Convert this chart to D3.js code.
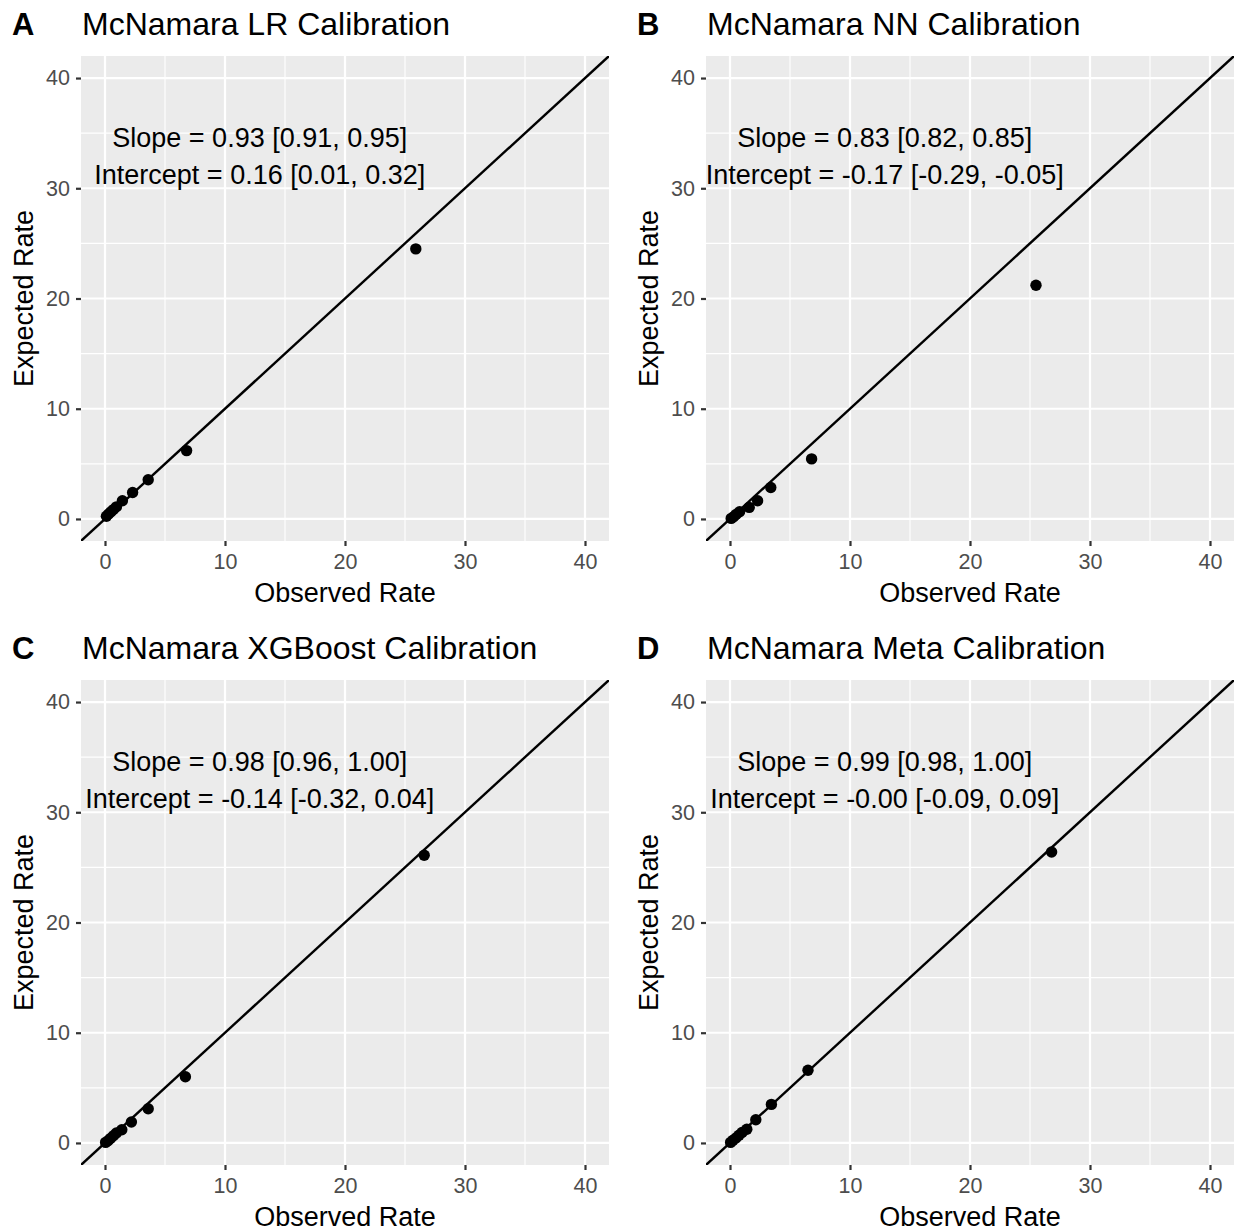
<!DOCTYPE html>
<html>
<head>
<meta charset="utf-8">
<script src="https://cdn.jsdelivr.net/npm/d3@7"></script>
<style>
  body { margin: 0; background: #fff; }
  svg { display: block; font-family: "Liberation Sans", Arial, Helvetica, sans-serif; }
</style>
</head>
<body>
<svg id="chart"></svg>
<script>
const W = 1235, H = 1232;

// panel letters and titles
const tags = ['A', 'B', 'C', 'D'];
const titles = [
  'McNamara LR Calibration',
  'McNamara NN Calibration',
  'McNamara XGBoost Calibration',
  'McNamara Meta Calibration'
];
const slopeLabels = [
  'Slope = 0.93 [0.91, 0.95]',
  'Slope = 0.83 [0.82, 0.85]',
  'Slope = 0.98 [0.96, 1.00]',
  'Slope = 0.99 [0.98, 1.00]'
];
const interceptLabels = [
  'Intercept = 0.16 [0.01, 0.32]',
  'Intercept = -0.17 [-0.29, -0.05]',
  'Intercept = -0.14 [-0.32, 0.04]',
  'Intercept = -0.00 [-0.09, 0.09]'
];

// observed vs expected rates
const lrObserved  = [0.12, 0.3, 0.5, 0.7, 0.95, 1.45, 2.3, 3.6, 6.8, 25.9];
const lrExpected  = [0.25, 0.45, 0.65, 0.85, 1.1, 1.65, 2.4, 3.55, 6.2, 24.5];
const nnObserved  = [0.1, 0.3, 0.5, 0.8, 1.6, 2.3, 3.4, 6.8, 25.5];
const nnExpected  = [0.05, 0.2, 0.4, 0.65, 1.05, 1.65, 2.85, 5.45, 21.2];
const xgbObserved = [0.05, 0.25, 0.45, 0.7, 0.95, 1.4, 2.2, 3.6, 6.7, 26.6];
const xgbExpected = [0.05, 0.2, 0.4, 0.65, 0.9, 1.2, 1.9, 3.1, 6.0, 26.1];
const metaObserved = [0.05, 0.25, 0.5, 0.75, 1.0, 1.4, 2.15, 3.45, 6.5, 26.8];
const metaExpected = [0.05, 0.25, 0.45, 0.7, 0.95, 1.25, 2.1, 3.5, 6.6, 26.4];

const observed = [lrObserved, nnObserved, xgbObserved, metaObserved];
const expected = [lrExpected, nnExpected, xgbExpected, metaExpected];

const majorTicks = [0, 10, 20, 30, 40];
const minorTicks = [5, 15, 25, 35];
const domain = [-2, 42];
const annotX = 12.9, slopeY = 34.6, interceptY = 31.2;

const svg = d3.select('#chart').attr('width', W).attr('height', H);
const defs = svg.append('defs');

const plotW = 528, plotH = 485;
const origins = [[81, 56], [706, 56], [81, 680], [706, 680]];

tags.forEach((tag, i) => {
  const [ox, oy] = origins[i];
  const x = d3.scaleLinear().domain(domain).range([0, plotW]);
  const y = d3.scaleLinear().domain(domain).range([plotH, 0]);

  const g = svg.append('g').attr('transform', `translate(${ox},${oy})`);

  // titles
  svg.append('text')
    .attr('x', ox - 69).attr('y', oy - 21)
    .attr('font-size', 31).attr('font-weight', 'bold').attr('fill', '#000')
    .text(tag);
  svg.append('text')
    .attr('x', ox + 1).attr('y', oy - 21)
    .attr('font-size', 32).attr('fill', '#000')
    .text(titles[i]);

  g.append('rect')
    .attr('width', plotW).attr('height', plotH)
    .attr('fill', '#EBEBEB');

  const clipId = 'clip' + i;
  defs.append('clipPath').attr('id', clipId)
    .append('rect').attr('width', plotW).attr('height', plotH);

  const grid = g.append('g').attr('stroke', '#fff');
  grid.selectAll('.vmin').data(minorTicks).enter().append('line')
    .attr('x1', d => x(d)).attr('x2', d => x(d)).attr('y1', 0).attr('y2', plotH)
    .attr('stroke-width', 1.1);
  grid.selectAll('.hmin').data(minorTicks).enter().append('line')
    .attr('y1', d => y(d)).attr('y2', d => y(d)).attr('x1', 0).attr('x2', plotW)
    .attr('stroke-width', 1.1);
  grid.selectAll('.vmaj').data(majorTicks).enter().append('line')
    .attr('x1', d => x(d)).attr('x2', d => x(d)).attr('y1', 0).attr('y2', plotH)
    .attr('stroke-width', 2.2);
  grid.selectAll('.hmaj').data(majorTicks).enter().append('line')
    .attr('y1', d => y(d)).attr('y2', d => y(d)).attr('x1', 0).attr('x2', plotW)
    .attr('stroke-width', 2.2);

  // identity line
  g.append('line')
    .attr('clip-path', `url(#${clipId})`)
    .attr('x1', x(domain[0])).attr('y1', y(domain[0]))
    .attr('x2', x(domain[1])).attr('y2', y(domain[1]))
    .attr('stroke', '#000').attr('stroke-width', 2.4);

  const pts = observed[i].map((o, j) => ({ o, e: expected[i][j] }));
  g.selectAll('circle').data(pts).enter().append('circle')
    .attr('cx', d => x(d.o)).attr('cy', d => y(d.e))
    .attr('r', 5.7).attr('fill', '#000');

  g.append('text')
    .attr('x', x(annotX)).attr('y', y(slopeY)).attr('dy', '0.35em')
    .attr('text-anchor', 'middle').attr('font-size', 27).attr('fill', '#000')
    .text(slopeLabels[i]);
  g.append('text')
    .attr('x', x(annotX)).attr('y', y(interceptY)).attr('dy', '0.35em')
    .attr('text-anchor', 'middle').attr('font-size', 27).attr('fill', '#000')
    .text(interceptLabels[i]);

  // axes
  const xAxis = g.append('g').attr('transform', `translate(0,${plotH})`)
    .call(d3.axisBottom(x).tickValues(majorTicks).tickSize(5).tickPadding(8));
  const yAxis = g.append('g')
    .call(d3.axisLeft(y).tickValues(majorTicks).tickSize(5).tickPadding(6));
  [xAxis, yAxis].forEach(a => {
    a.select('.domain').remove();
    a.selectAll('.tick line').attr('stroke', '#333').attr('stroke-width', 2.2);
    a.selectAll('.tick text').attr('fill', '#4D4D4D').attr('font-size', 21.5)
      .attr('font-family', '"Liberation Sans", Arial, sans-serif');
  });

  g.append('text')
    .attr('x', plotW / 2).attr('y', plotH + 61)
    .attr('text-anchor', 'middle').attr('font-size', 27).attr('fill', '#000')
    .text('Observed Rate');
  g.append('text')
    .attr('transform', `translate(${-48},${plotH / 2}) rotate(-90)`)
    .attr('text-anchor', 'middle').attr('font-size', 27).attr('fill', '#000')
    .text('Expected Rate');
});
</script>
</body>
</html>
